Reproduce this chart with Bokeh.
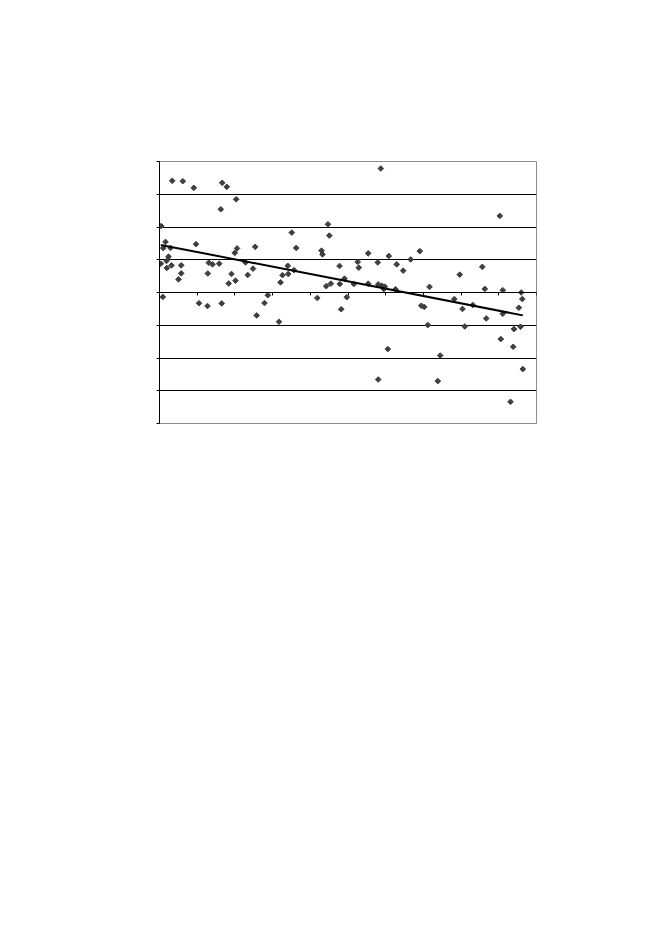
import numpy as np
from bokeh.plotting import figure
from bokeh.models import LinearAxis, FixedTicker, Range1d
from bokeh.embed import file_html
from bokeh.resources import INLINE

# scatter data
x_vals = [0.045, 0.088, 0.034, 0.098, 0.159, 0.186, 0.194, 0.239, 0.292, 0.318,
          0.337, 0.504, 0.576, 0.576, 0.618, 0.910, 0.968, 1.048, 1.273, 1.281,
          1.308, 1.406, 1.584, 1.626, 1.650, 1.663, 1.785, 1.836, 1.910, 1.997,
          2.016, 2.034, 2.056, 2.281, 2.340, 2.480, 2.538, 2.578, 2.785, 2.873,
          3.170, 3.210, 3.263, 3.403, 3.414, 3.509, 3.568, 3.626, 4.186, 4.297,
          4.324, 4.422, 4.469, 4.504, 4.544, 4.775, 4.782, 4.820, 4.907, 4.968,
          5.154, 5.257, 5.286, 5.536, 5.536, 5.790, 5.801, 5.801, 5.870, 5.897,
          5.950, 5.976, 6.056, 6.082, 6.260, 6.292, 6.464, 6.663, 6.905, 6.944,
          7.021, 7.117, 7.162, 7.382, 7.446, 7.820, 7.963, 8.037, 8.098, 8.310,
          8.562, 8.629, 8.666, 9.027, 9.053, 9.106, 9.106, 9.310, 9.382, 9.403,
          9.531, 9.576, 9.594, 9.623, 9.637]
y_vals = [2.03, -0.135, 0.88, 1.355, 1.544, 0.963, 0.749, 1.095, 1.361, 0.829,
          3.41, 0.401, 0.829, 0.584, 3.398, 3.196, 1.477, -0.327, -0.413, 0.581,
          0.911, 0.859, 0.881, 2.541, -0.333, 3.349, 3.226, 0.275, 0.566, 1.211,
          0.361, 2.847, 1.346, 0.920, 0.535, 0.728, 1.394, -0.700, -0.321, -0.083,
          -0.893, 0.309, 0.529, 0.813, 0.566, 1.829, 0.682, 1.361, -0.168, 1.278,
          1.165, 0.193, 2.083, 1.737, 0.269, 0.810, 0.260, -0.511, 0.422, -0.144,
          0.260, 0.933, 0.758, 1.196, 0.269, 0.917, 0.248, -2.657, 3.786, 0.208,
          0.107, 0.177, -1.728, 1.116, 0.101, 0.859, 0.667, 1.009, 1.263, -0.404,
          -0.440, -0.994, 0.171, -2.706, -1.924, -0.199, 0.544, -0.502, -1.037, -0.382,
          0.783, 0.110, -0.792, 2.339, -1.422, 0.070, -0.648, -3.339, -1.657, -1.116,
          -0.465, -1.046, 0.000, -0.199, -2.339]

x_ticks = [0, 1, 2, 3, 4, 5, 6, 7, 8, 9, 10]
y_ticks = [-4, -3, -2, -1, 0, 1, 2, 3, 4]
grid_ticks = [-3, -2, -1, 0, 1, 2, 3]

# linear trendline (least squares, like Excel)
xa = np.array(x_vals)
ya = np.array(y_vals)
slope, intercept = np.polyfit(xa, ya, 1)
trend_x = [xa.min(), xa.max()]
trend_y = [slope * v + intercept for v in trend_x]

p = figure(width=653, height=530, output_backend="svg", toolbar_location=None,
           x_range=Range1d(0, 10), y_range=Range1d(-4, 4),
           x_axis_location=None, y_axis_location=None,
           min_border_left=159, min_border_top=161, min_border_right=117,
           min_border_bottom=107)
p.outline_line_color = "#8c8c8c"
p.outline_line_width = 1
p.background_fill_color = "white"
p.border_fill_color = "white"

yax = LinearAxis(ticker=FixedTicker(ticks=y_ticks))
yax.major_label_overrides = {t: "" for t in y_ticks}
yax.major_label_standoff = 0
yax.major_tick_in = 0
yax.major_tick_out = 3
yax.minor_tick_line_color = None
yax.axis_line_color = "black"
yax.major_tick_line_color = "black"
p.add_layout(yax, "left")

xax = LinearAxis(ticker=FixedTicker(ticks=x_ticks), fixed_location=0)
xax.major_label_overrides = {t: "" for t in x_ticks}
xax.major_label_standoff = 0
xax.major_tick_in = 0
xax.major_tick_out = 3
xax.minor_tick_line_color = None
xax.axis_line_color = "black"
xax.major_tick_line_color = "black"
p.add_layout(xax, "below")

p.xgrid.visible = False
p.ygrid.ticker = FixedTicker(ticks=grid_ticks)
p.ygrid.grid_line_color = "black"
p.ygrid.grid_line_width = 1

p.scatter(x_vals, y_vals, marker="square", angle=np.pi/4, size=4,
          fill_color="#3f3f3f", line_color="#3f3f3f")
p.line(trend_x, trend_y, line_color="black", line_width=2)

open("out.html", "w").write(file_html(p, INLINE))
